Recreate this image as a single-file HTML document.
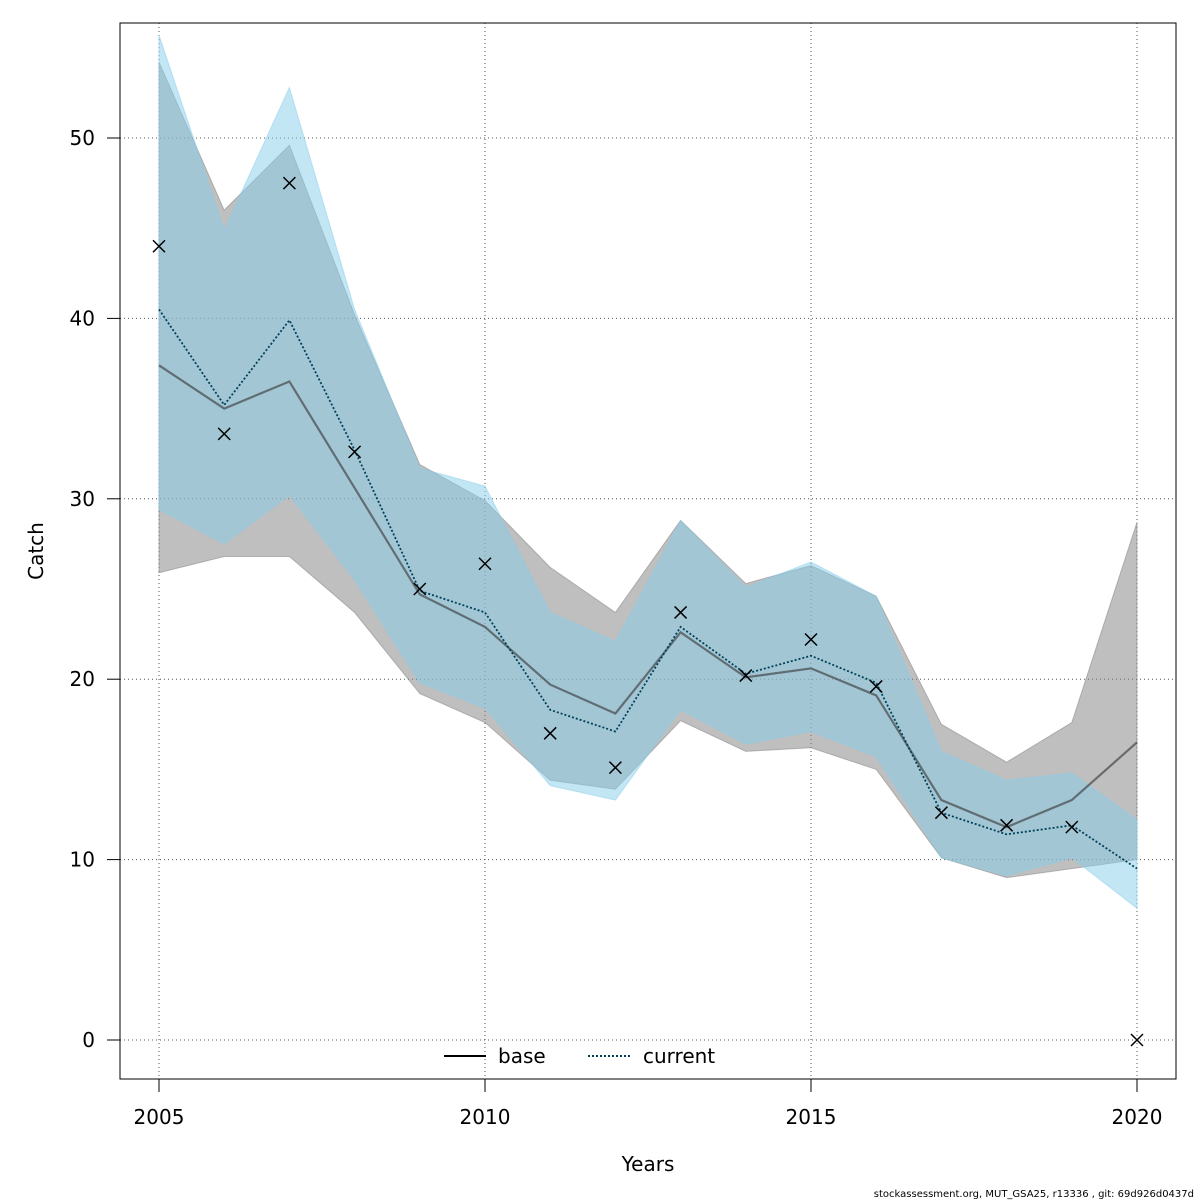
<!DOCTYPE html>
<html><head><meta charset="utf-8"><style>body{margin:0;background:#fff}svg{display:block}text{font-family:"DejaVu Sans","Liberation Sans",sans-serif}</style></head>
<body>
<svg id="chart" width="1200" height="1200" xmlns="http://www.w3.org/2000/svg"></svg>
<script>
const years=[2005,2006,2007,2008,2009,2010,2011,2012,2013,2014,2015,2016,2017,2018,2019,2020];
const baseMid=[37.4,35.0,36.5,30.6,24.7,22.9,19.7,18.1,22.6,20.1,20.6,19.1,13.3,11.8,13.3,16.5];
const baseHi=[54.2,46.0,49.6,40.2,31.9,29.9,26.2,23.7,28.8,25.3,26.3,24.6,17.5,15.4,17.6,28.7];
const baseLo=[25.9,26.8,26.8,23.7,19.2,17.6,14.4,13.9,17.7,16.0,16.2,15.0,10.1,9.0,9.5,10.0];
const curMid=[40.5,35.2,39.9,32.7,24.9,23.7,18.3,17.1,22.9,20.3,21.3,19.8,12.6,11.4,11.9,9.5];
const curHi=[55.7,44.9,52.8,40.5,31.7,30.7,23.7,22.1,28.8,25.1,26.5,24.6,16.0,14.4,14.8,12.2];
const curLo=[29.4,27.5,30.2,25.5,19.8,18.4,14.1,13.3,18.3,16.4,17.1,15.7,10.1,9.1,10.1,7.3];
const observed=[44.0,33.6,47.5,32.6,25.0,26.4,17.0,15.1,23.7,20.2,22.2,19.6,12.6,11.9,11.8,0];
const xTicks=[2005,2010,2015,2020];
const yTicks=[0,10,20,30,40,50];
const NS="http://www.w3.org/2000/svg";
const svg=document.getElementById('chart');
const X=v=>159+(v-2005)*(1137-159)/15;
const Y=v=>1040-v*(1040-138)/50;
function mk(tag,attrs,parent){const e=document.createElementNS(NS,tag);for(const k in attrs)e.setAttribute(k,attrs[k]);(parent||svg).appendChild(e);return e;}
for(const t of xTicks){const g=mk('line',{x1:X(t),x2:X(t),y1:23,y2:1079,stroke:'#555','stroke-width':1,'stroke-dasharray':'1,3'});

}
for(const t of yTicks){const g=mk('line',{x1:120,x2:1176,y1:Y(t),y2:Y(t),stroke:'#555','stroke-width':1,'stroke-dasharray':'1,3'});

}
function band(hi,lo,fill,name){let d='';years.forEach((y,i)=>d+=(i?'L':'M')+X(y)+','+Y(hi[i]));for(let i=years.length-1;i>=0;i--)d+='L'+X(years[i])+','+Y(lo[i]);d+='Z';
const p=mk('path',{d:d,fill:fill,stroke:fill,'stroke-width':1});

}
band(baseHi,baseLo,'rgba(128,128,128,0.5)','base-ci-band');
band(curHi,curLo,'rgba(135,206,235,0.5)','current-ci-band');
function line(arr,attrs,name){const pts=years.map((y,i)=>X(y)+','+Y(arr[i])).join(' ');
const l=mk('polyline',Object.assign({points:pts,fill:'none'},attrs));

}
line(baseMid,{stroke:'#333','stroke-width':2.2,'stroke-opacity':0.6},'base-line');
line(curMid,{stroke:'#00415a','stroke-width':1.8,'stroke-dasharray':'2,2'},'current-line');
years.forEach((y,i)=>{const cx=X(y),cy=Y(observed[i]);
const p=mk('path',{d:`M${cx-6},${cy-6}L${cx+6},${cy+6}M${cx-6},${cy+6}L${cx+6},${cy-6}`,stroke:'#000','stroke-width':1.5});

});
const box=mk('rect',{x:120,y:23,width:1056,height:1056,fill:'none',stroke:'#000','stroke-width':1});


for(const t of xTicks){mk('line',{x1:X(t),x2:X(t),y1:1079,y2:1092,stroke:'#000'});
const tx=mk('text',{x:X(t),y:1124,'text-anchor':'middle','font-size':20});tx.textContent=t;

}
for(const t of yTicks){mk('line',{x1:107,x2:120,y1:Y(t),y2:Y(t),stroke:'#000'});
const tx=mk('text',{x:95,y:Y(t)+7,'text-anchor':'end','font-size':20});tx.textContent=t;

}
</script>
<svg style="position:absolute;left:0;top:0" width="1200" height="1200" xmlns="http://www.w3.org/2000/svg">
<text x="648" y="1171" text-anchor="middle" font-size="20">Years</text>
<text x="43" y="551" text-anchor="middle" font-size="20" transform="rotate(-90 43 551)">Catch</text>
<g>
<line x1="444" x2="486" y1="1056" y2="1056" stroke="#000" stroke-width="2"/>
<text x="498" y="1063" font-size="20">base</text>
<line x1="588" x2="630" y1="1056" y2="1056" stroke="#00415a" stroke-width="2" stroke-dasharray="2,2"/>
<text x="643" y="1063" font-size="20">current</text>
</g>
<text x="1194" y="1197" text-anchor="end" font-size="10">stockassessment.org, MUT_GSA25, r13336 , git: 69d926d0437d</text>
</svg>
</body></html>
